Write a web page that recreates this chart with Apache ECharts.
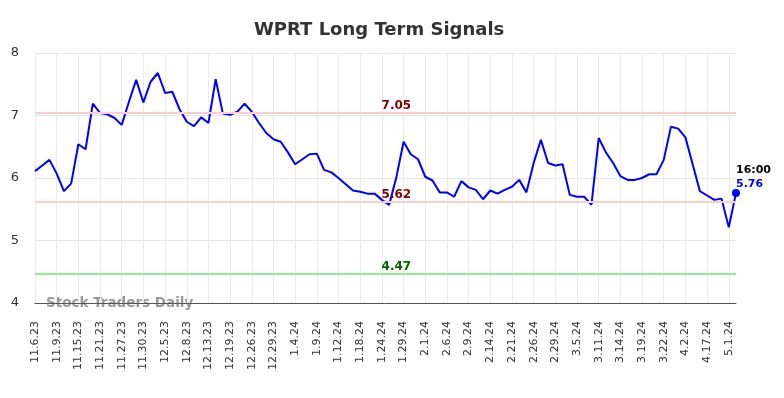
<!DOCTYPE html>
<html>
<head>
<meta charset="utf-8">
<script src="https://cdn.jsdelivr.net/npm/echarts@6/dist/echarts.min.js"></script>
<style>
  html, body { margin: 0; padding: 0; background: #fff; }
  #chart { width: 784px; height: 398px; }
</style>
</head>
<body>
<div id="chart"></div>
<script>
// dates (every third one is shown on the axis)
var dates = [
  '11.6.23', '11.7.23', '11.8.23', '11.9.23', '11.10.23', '11.14.23',
  '11.15.23', '11.16.23', '11.20.23', '11.21.23', '11.22.23', '11.24.23',
  '11.27.23', '11.28.23', '11.29.23', '11.30.23', '12.1.23', '12.4.23',
  '12.5.23', '12.6.23', '12.7.23', '12.8.23', '12.11.23', '12.12.23',
  '12.13.23', '12.14.23', '12.18.23', '12.19.23', '12.20.23', '12.22.23',
  '12.26.23', '12.27.23', '12.28.23', '12.29.23', '1.2.24', '1.3.24',
  '1.4.24', '1.5.24', '1.8.24', '1.9.24', '1.10.24', '1.11.24',
  '1.12.24', '1.16.24', '1.17.24', '1.18.24', '1.22.24', '1.23.24',
  '1.24.24', '1.25.24', '1.26.24', '1.29.24', '1.30.24', '1.31.24',
  '2.1.24', '2.2.24', '2.5.24', '2.6.24', '2.7.24', '2.8.24',
  '2.9.24', '2.12.24', '2.13.24', '2.14.24', '2.15.24', '2.20.24',
  '2.21.24', '2.22.24', '2.23.24', '2.26.24', '2.27.24', '2.28.24',
  '2.29.24', '3.1.24', '3.4.24', '3.5.24', '3.6.24', '3.8.24',
  '3.11.24', '3.12.24', '3.13.24', '3.14.24', '3.15.24', '3.18.24',
  '3.19.24', '3.20.24', '3.21.24', '3.22.24', '3.26.24', '3.28.24',
  '4.2.24', '4.8.24', '4.12.24', '4.17.24', '4.22.24', '4.26.24',
  '5.1.24', '5.2.24'
];
// closing prices
var prices = [
  6.11, 6.20, 6.29, 6.07, 5.79, 5.91, 6.54, 6.46, 7.19, 7.04,
  7.02, 6.96, 6.85, 7.22, 7.57, 7.21, 7.54, 7.68, 7.36, 7.38,
  7.10, 6.90, 6.83, 6.97, 6.88, 7.58, 7.03, 7.01, 7.06, 7.19,
  7.06, 6.88, 6.72, 6.62, 6.58, 6.41, 6.22, 6.30, 6.38, 6.39,
  6.13, 6.09, 6.00, 5.90, 5.80, 5.78, 5.75, 5.75, 5.65, 5.57,
  6.01, 6.58, 6.38, 6.30, 6.02, 5.96, 5.77, 5.77, 5.70, 5.95,
  5.85, 5.81, 5.66, 5.80, 5.75, 5.81, 5.86, 5.97, 5.77, 6.24,
  6.61, 6.24, 6.20, 6.22, 5.73, 5.70, 5.70, 5.57, 6.64, 6.41,
  6.24, 6.03, 5.97, 5.97, 6.00, 6.06, 6.06, 6.29, 6.82, 6.79,
  6.65, 6.22, 5.79, 5.72, 5.65, 5.67, 5.21, 5.76
];
// signal levels
var resistance = [7.05, 5.62];
var support = [4.47];
var yTicks = [4, 8, 1];
var lastTime = '16:00';
var levelLabelAt = 50;

var font = 'DejaVu Sans';
var chart = echarts.init(document.getElementById('chart'));

var levelLines = [];
var levelMarks = [];
resistance.forEach(function (v) {
  levelLines.push({ yAxis: v, lineStyle: { color: '#ffcccc', width: 2, type: 'solid' } });
  levelMarks.push({ coord: [levelLabelAt, v], value: v, color: '#800000' });
});
support.forEach(function (v) {
  levelLines.push({ yAxis: v, lineStyle: { color: '#90ee90', width: 2, type: 'solid' } });
  levelMarks.push({ coord: [levelLabelAt, v], value: v, color: '#006400' });
});

var last = prices.length - 1;

var option = {
  animation: false,
  backgroundColor: '#fff',
  textStyle: { fontFamily: font },
  title: {
    text: 'WPRT Long Term Signals',
    left: 249,
    top: 16,
    textStyle: { fontFamily: font, fontSize: 18, fontWeight: 'bold', color: '#333' }
  },
  grid: { left: 35, right: 48, top: 53, bottom: 95 },
  xAxis: {
    type: 'category',
    data: dates,
    boundaryGap: false,
    axisLine: { show: true, lineStyle: { color: '#555', width: 1 } },
    axisTick: { show: false },
    axisLabel: {
      interval: 2,
      rotate: 90,
      margin: 18,
      fontSize: 11,
      color: '#333',
      fontFamily: font
    },
    splitLine: { show: true, interval: 2, lineStyle: { color: '#ebebeb', width: 1 } }
  },
  yAxis: {
    type: 'value',
    min: yTicks[0],
    max: yTicks[1],
    interval: yTicks[2],
    axisLine: { show: false },
    axisTick: { show: false },
    axisLabel: { fontSize: 13, color: '#333', margin: 16, fontFamily: font },
    splitLine: { lineStyle: { color: '#e6e6e6', width: 1 } }
  },
  graphic: [{
    type: 'text',
    left: 46,
    top: 296,
    style: {
      text: 'Stock Traders Daily',
      fontFamily: font,
      fontSize: 13.5,
      fontWeight: 'bold',
      fill: '#999'
    }
  }],
  series: [{
    type: 'line',
    data: prices,
    showSymbol: false,
    lineStyle: { color: '#0000ff', width: 2 },
    itemStyle: { color: '#0000ff' },
    markLine: {
      silent: true,
      symbol: 'none',
      label: { show: false },
      data: levelLines
    },
    markPoint: {
      silent: true,
      data: levelMarks.map(function (m) {
        return {
          coord: m.coord,
          value: m.value,
          symbol: 'circle',
          symbolSize: 0,
          label: {
            show: true,
            position: 'top',
            distance: 1,
            formatter: m.value.toFixed(2),
            fontFamily: font,
            fontSize: 12,
            fontWeight: 'bold',
            color: m.color
          }
        };
      }).concat([{
        coord: [last, prices[last]],
        value: prices[last],
        symbol: 'circle',
        symbolSize: 8,
        itemStyle: { color: '#0000ff' },
        label: {
          show: true,
          position: [4, 2],
          align: 'left',
          verticalAlign: 'bottom',
          formatter: '{a|' + lastTime + '}\n{b|' + prices[last].toFixed(2) + '}',
          rich: {
            a: { fontFamily: font, fontSize: 11, fontWeight: 'bold', color: '#000', lineHeight: 14 },
            b: { fontFamily: font, fontSize: 11, fontWeight: 'bold', color: '#0000ff', lineHeight: 14 }
          }
        }
      }])
    }
  }]
};

chart.setOption(option);
</script>
</body>
</html>
